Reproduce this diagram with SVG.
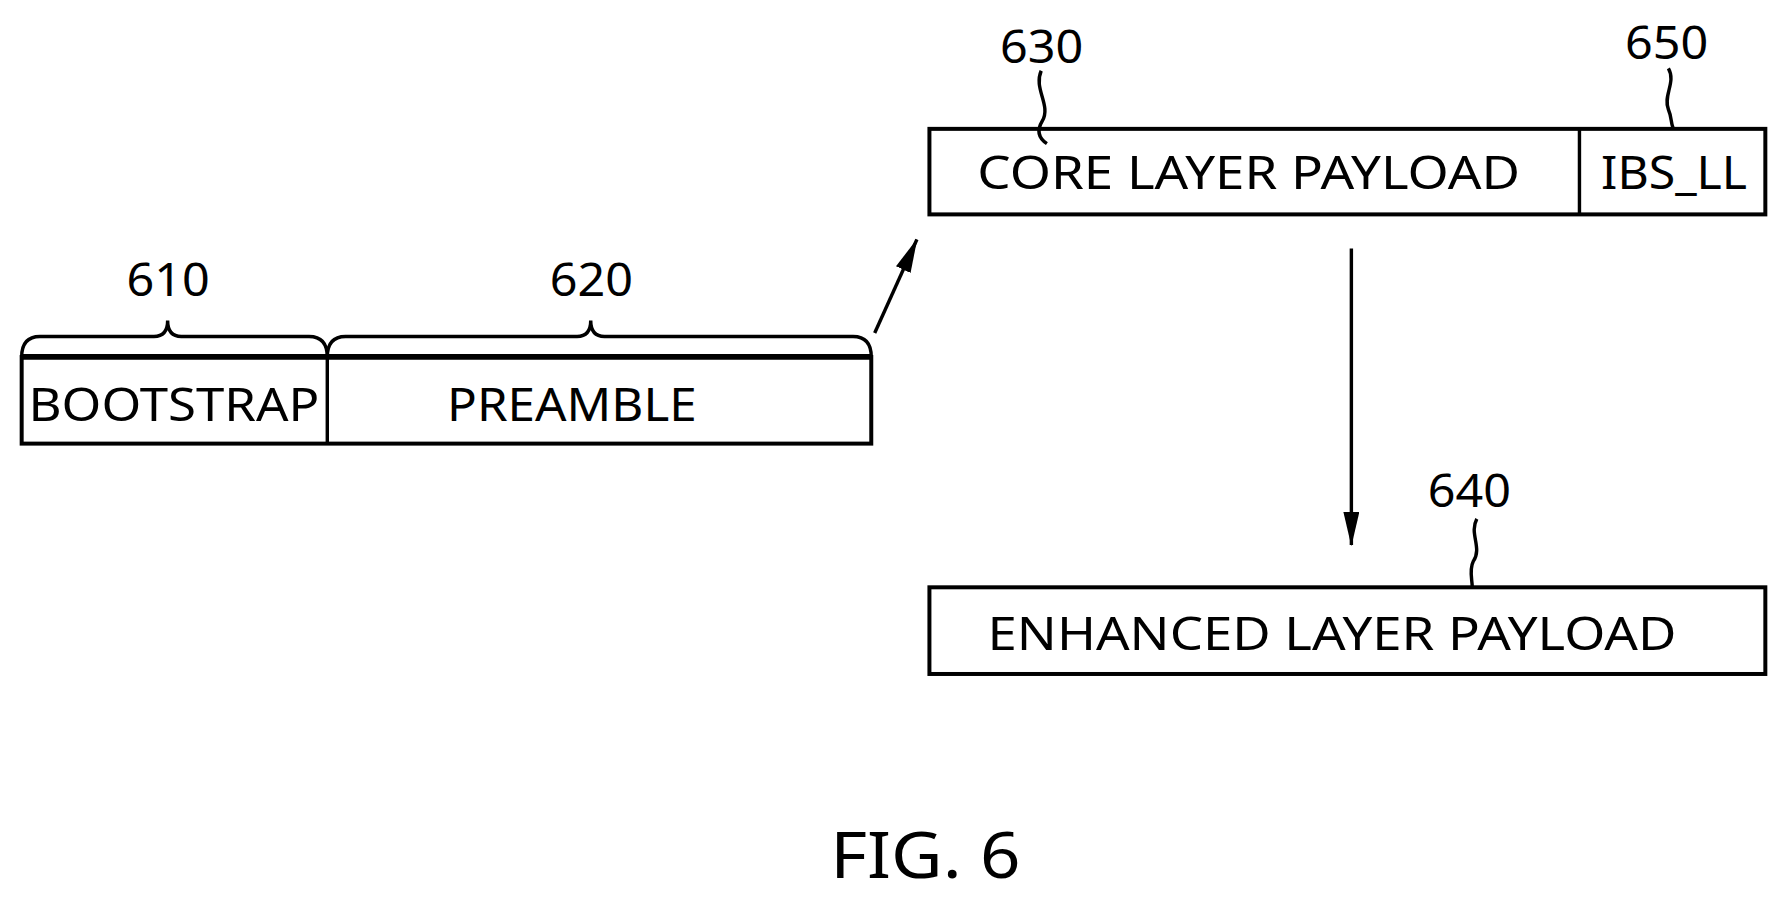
<svg xmlns="http://www.w3.org/2000/svg" width="1779" height="898" viewBox="0 0 1779 898">
<defs>
<marker id="ah" viewBox="0 0 30 14" refX="29" refY="7" markerWidth="30" markerHeight="14" markerUnits="userSpaceOnUse" orient="auto"><path d="M0,0 L30,7 L0,14 z" fill="#000"/></marker>
<style>
.b{fill:#fff;stroke:#000;stroke-width:3.5}
.l{fill:none;stroke:#000;stroke-width:3}
text{font-family:"Noto Sans","DejaVu Sans",sans-serif;font-size:40px;fill:#000}
</style>
</defs>
<rect width="1779" height="898" fill="#fff"/>
<g transform="scale(1.1404)">
<g id="frame1">
<rect class="b" x="19" y="313" width="745" height="76"/>
<line x1="19" y1="313" x2="764" y2="313" stroke="#000" stroke-width="5"/>
<line class="l" x1="287" y1="313" x2="287" y2="389"/>
<text x="25" y="369" textLength="255" lengthAdjust="spacingAndGlyphs">BOOTSTRAP</text>
<text x="392" y="369" textLength="219" lengthAdjust="spacingAndGlyphs">PREAMBLE</text>
<path class="l" d="M19,313 Q19,295 35,295 L135,295 Q147,295 147,281 Q147,295 159,295 L271,295 Q287,295 287,313"/>
<path class="l" d="M287,313 Q287,295 303,295 L506,295 Q518,295 518,281 Q518,295 530,295 L748,295 Q764,295 764,313"/>
<text x="111" y="260" textLength="73" lengthAdjust="spacingAndGlyphs">610</text>
<text x="482" y="260" textLength="73" lengthAdjust="spacingAndGlyphs">620</text>
</g>
<g id="core">
<rect class="b" x="815" y="113" width="733" height="75"/>
<line class="l" x1="1385" y1="113" x2="1385" y2="188"/>
<text x="857" y="166" textLength="476" lengthAdjust="spacingAndGlyphs">CORE LAYER PAYLOAD</text>
<text x="1404" y="166" textLength="128" lengthAdjust="spacingAndGlyphs">IBS_LL</text>
<text x="877" y="55" textLength="73" lengthAdjust="spacingAndGlyphs">630</text>
<text x="1425" y="52" textLength="73" lengthAdjust="spacingAndGlyphs">650</text>
<path class="l" d="M913,62 C906,78 922,92 914,106 C908,116 912,122 918,126"/>
<path class="l" d="M1463,60 C1470,72 1458,84 1463,96 C1466,103 1465,107 1467,112"/>
</g>
<g id="enhanced">
<rect class="b" x="815" y="515" width="733" height="76"/>
<text x="866" y="570" textLength="604" lengthAdjust="spacingAndGlyphs">ENHANCED LAYER PAYLOAD</text>
<text x="1252" y="445" textLength="73" lengthAdjust="spacingAndGlyphs">640</text>
<path class="l" d="M1295,455 C1288,468 1300,480 1292,492 C1288,500 1291,508 1291,515"/>
</g>
<g id="connectors">
<line class="l" x1="767" y1="292" x2="804" y2="210" marker-end="url(#ah)"/>
<line class="l" x1="1185" y1="218" x2="1185" y2="478" marker-end="url(#ah)"/>
</g>
<text x="728" y="770" style="font-size:56px" textLength="167" lengthAdjust="spacingAndGlyphs">FIG. 6</text>
</g>
</svg>
